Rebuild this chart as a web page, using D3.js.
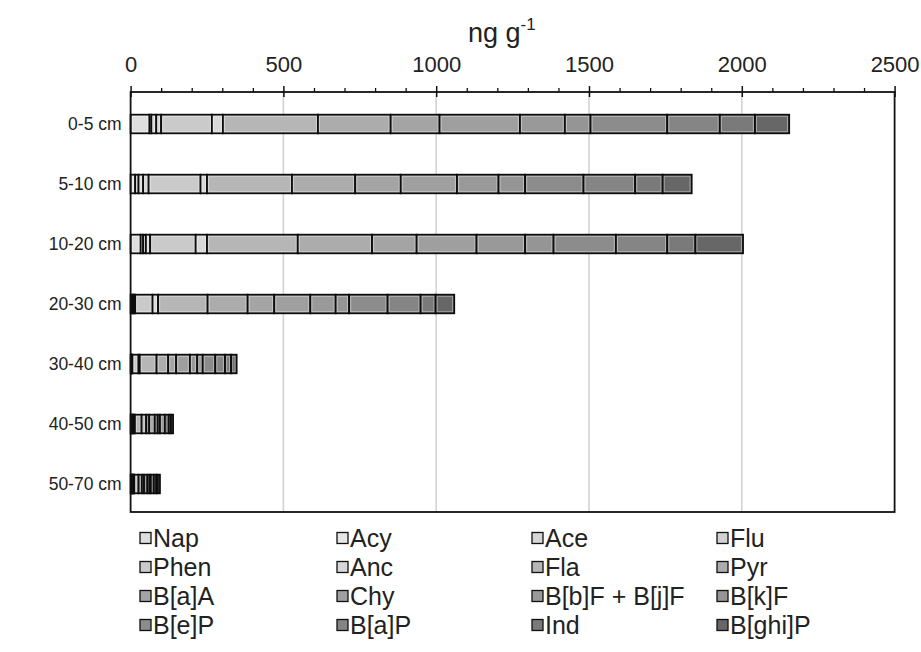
<!DOCTYPE html>
<html>
<head>
<meta charset="utf-8">
<script src="https://cdn.jsdelivr.net/npm/d3@7/dist/d3.min.js"></script>
<style>
  body { margin: 0; background: #fff; }
  svg { display: block; font-family: Arial, "Liberation Sans", sans-serif; }
</style>
</head>
<body>
<svg id="chart" width="921" height="652"></svg>
<script>
// depth layers (rows, top to bottom)
var depths = ["0-5 cm", "5-10 cm", "10-20 cm", "20-30 cm", "30-40 cm", "40-50 cm", "50-70 cm"]

// PAH compounds, stacking order = legend order
var compounds = ["Nap", "Acy", "Ace", "Flu", "Phen", "Anc", "Fla", "Pyr",
                 "B[a]A", "Chy", "B[b]F + B[j]F", "B[k]F", "B[e]P", "B[a]P", "Ind", "B[ghi]P"]

// ng g-1, one value per depth
var nap  = [62, 15, 33, 5, 2, 3, 3]
var acy  = [6, 11, 8, 3, 1, 1, 1]
var ace  = [16, 15, 9, 3, 1, 1, 1]
var flu  = [16, 18, 14, 4, 2, 2, 2]
var phen = [166, 170, 149, 57, 20, 5, 4]
var anc  = [36, 21, 37, 18, 4, 2, 1]
var fla  = [311, 278, 297, 162, 55, 22, 14]
var pyr  = [238, 207, 243, 131, 38, 15, 11]
var baa  = [160, 149, 146, 87, 26, 10, 7]
var chy  = [263, 184, 196, 118, 45, 18, 11]
var bbf  = [147, 136, 159, 83, 24, 10, 7]
var bkf  = [84, 87, 93, 44, 18, 7, 4]
var bep  = [251, 191, 204, 126, 41, 16, 10]
var bap  = [172, 169, 168, 108, 32, 13, 8]
var ind  = [115, 90, 92, 49, 20, 7, 5]
var bghi = [112, 95, 156, 61, 18, 7, 7]

var seriesValues = [nap, acy, ace, flu, phen, anc, fla, pyr, baa, chy, bbf, bkf, bep, bap, ind, bghi]

var colors = ["#dedede", "#e6e6e6", "#d6d6d6", "#d2d2d2", "#cacaca", "#d8d8d8", "#b6b6b6", "#acacac",
              "#a4a4a4", "#9f9f9f", "#999999", "#959595", "#8c8c8c", "#858585", "#7a7a7a", "#676767"]

var xTicks = [0, 500, 1000, 1500, 2000, 2500]

// build the table d3.stack needs
var table = depths.map(function (d, i) {
    var row = { depth: d }
    compounds.forEach(function (c, j) { row[c] = seriesValues[j][i] })
    return row
})

var svg = d3.select("#chart")
var plot = { left: 130.6, right: 894.6, top: 92, bottom: 512 }

var x = d3.scaleLinear().domain([0, 2500]).range([plot.left, plot.right])
var y = d3.scaleBand().domain(depths).range([plot.top + 2, plot.bottom + 2]).paddingInner(0.69).paddingOuter(0.345)
var color = d3.scaleOrdinal().domain(compounds).range(colors)

// gridlines
svg.append("g")
    .selectAll("line")
    .data(xTicks.slice(1, -1))
    .join("line")
    .attr("x1", d => x(d)).attr("x2", d => x(d))
    .attr("y1", plot.top).attr("y2", plot.bottom)
    .attr("stroke", "#d3d3d3")
    .attr("stroke-width", 1.6)

// stacked bars
var stacked = d3.stack().keys(compounds)(table)

var layers = svg.append("g")
    .selectAll("g")
    .data(stacked)
    .join("g")
    .attr("fill", d => color(d.key))

layers.selectAll("rect")
    .data(d => d)
    .join("rect")
    .attr("x", d => x(d[0]))
    .attr("y", d => y(d.data.depth))
    .attr("width", d => x(d[1]) - x(d[0]))
    .attr("height", y.bandwidth())
    .attr("stroke", "#0d0d0d")
    .attr("stroke-width", 1.8)

// light inner edge on each segment
layers.selectAll("rect.hi")
    .data(d => d.filter(s => x(s[1]) - x(s[0]) > 4))
    .join("rect")
    .attr("class", "hi")
    .attr("x", d => x(d[0]) + 1.6)
    .attr("y", d => y(d.data.depth) + 1.6)
    .attr("width", d => x(d[1]) - x(d[0]) - 3.2)
    .attr("height", y.bandwidth() - 3.2)
    .attr("fill", "none")
    .attr("stroke", "#ffffff")
    .attr("stroke-opacity", 0.4)
    .attr("stroke-width", 1)

// frame
svg.append("rect")
    .attr("x", plot.left).attr("y", plot.top)
    .attr("width", plot.right - plot.left).attr("height", plot.bottom - plot.top)
    .attr("fill", "none")
    .attr("stroke", "#111")
    .attr("stroke-width", 1.8)

// top axis: major ticks + labels
var axisTop = svg.append("g")
    .attr("transform", "translate(0," + plot.top + ")")
    .call(d3.axisTop(x).tickValues(xTicks).tickFormat(d3.format("d")).tickSizeInner(6).tickSizeOuter(0).tickPadding(14))
axisTop.select(".domain").remove()
axisTop.selectAll("line").attr("stroke", "#111").attr("stroke-width", 1.5)
axisTop.selectAll("text").attr("font-size", "22px").attr("fill", "#222").attr("font-family", "Arial, 'Liberation Sans', sans-serif")

// major ticks crossing down into the plot
var axisDown = svg.append("g")
    .attr("transform", "translate(0," + plot.top + ")")
    .call(d3.axisBottom(x).tickValues(xTicks).tickSizeInner(5).tickSizeOuter(0).tickFormat(""))
axisDown.select(".domain").remove()
axisDown.selectAll("line").attr("stroke", "#111").attr("stroke-width", 1.5)

// minor ticks every 100
var minor = d3.range(100, 2500, 100).filter(v => v % 500 !== 0)
var axisMinor = svg.append("g")
    .attr("transform", "translate(0," + plot.top + ")")
    .call(d3.axisTop(x).tickValues(minor).tickSizeInner(4).tickSizeOuter(0).tickFormat(""))
axisMinor.select(".domain").remove()
axisMinor.selectAll("line").attr("stroke", "#111").attr("stroke-width", 1.3)

// axis title
var title = svg.append("text")
    .attr("x", 468)
    .attr("y", 42)
    .attr("font-size", "27px")
    .attr("fill", "#222")
title.append("tspan").text("ng g")
title.append("tspan").attr("dy", -12).attr("font-size", "17px").text("-1")

// depth labels
var axisLeft = svg.append("g")
    .attr("transform", "translate(" + plot.left + ",0)")
    .call(d3.axisLeft(y).tickSize(0).tickPadding(9))
axisLeft.select(".domain").remove()
axisLeft.selectAll("text").attr("font-size", "17.5px").attr("fill", "#222").attr("font-family", "Arial, 'Liberation Sans', sans-serif")

// legend, 4 columns
var colX = [140, 337, 532, 717]
var legend = svg.append("g")
    .selectAll("g")
    .data(compounds)
    .join("g")
    .attr("transform", (d, i) => "translate(" + colX[i % 4] + "," + (538 + Math.floor(i / 4) * 29) + ")")

legend.append("rect")
    .attr("x", 0).attr("y", -5.5)
    .attr("width", 11).attr("height", 11)
    .attr("fill", d => color(d))
    .attr("stroke", "#111")
    .attr("stroke-width", 1.3)

legend.append("text")
    .attr("x", 13)
    .attr("y", 0)
    .attr("dy", "0.35em")
    .attr("font-size", "25px")
    .attr("fill", "#222")
    .text(d => d)
</script>
</body>
</html>
